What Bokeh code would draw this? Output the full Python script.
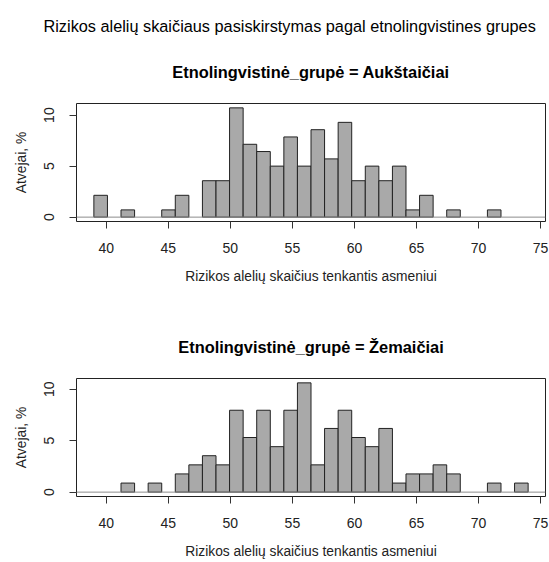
from bokeh.plotting import figure
from bokeh.layouts import column
from bokeh.models import Range1d, FixedTicker, Span, Title
from bokeh.embed import file_html
from bokeh.resources import INLINE
import numpy as np

# ---- data (percent of cases per bin) ----
breaks = list(np.linspace(39, 74, 33))          # 32 equal-width bins, 39..74
x_ticks = [40, 45, 50, 55, 60, 65, 70, 75]
y_ticks = [0, 5, 10]
overall_title = "Rizikos alelių skaičiaus pasiskirstymas pagal etnolingvistines grupes"
groups = ["Aukštaičiai", "Žemaičiai"]
aukstaiciai = [2.14, 0, 0.71, 0, 0, 0.71, 2.14, 0, 3.57, 3.57, 10.71, 7.14,
               6.43, 5.00, 7.86, 5.00, 8.57, 5.71, 9.29, 3.57, 5.00, 3.57,
               5.00, 0.71, 2.14, 0, 0.71, 0, 0, 0.71, 0, 0]
zemaiciai = [0, 0, 0.88, 0, 0.88, 0, 1.77, 2.65, 3.54, 2.65, 7.96, 5.31,
             7.96, 4.42, 7.96, 10.62, 2.65, 6.19, 7.96, 5.31, 4.42, 6.19,
             0.88, 1.77, 1.77, 2.65, 1.77, 0, 0, 0.88, 0, 0.88]
x_label = "Rizikos alelių skaičius tenkantis asmeniui"
y_label = "Atvejai, %"

FONT = "Liberation Sans"
W = 549
FRAME_H = 118


def style_title(t, size, bold, color="black"):
    t.text_font = FONT
    t.text_font_size = size
    t.text_font_style = "bold" if bold else "normal"
    t.text_color = color


def panel(vals, group, height, border_top, top_title=None):
    lo, hi = breaks[0], breaks[-1]
    ext = 0.04 * (hi - lo)
    ymax = max(vals)
    sub = "Etnolingvistinė_grupė = " + group
    p = figure(width=W, height=height, output_backend="svg", toolbar_location=None,
               x_range=Range1d(lo - ext, hi + ext),
               y_range=Range1d(-0.04 * ymax, 1.04 * ymax),
               min_border_left=76, min_border_right=4,
               min_border_top=border_top,
               min_border_bottom=height - border_top - FRAME_H,
               title=top_title if top_title else sub)
    if top_title:
        # overall title (farther from the frame)
        p.title.align = "left"
        p.title.offset = -33
        style_title(p.title, "16.3px", False)
        p.title.standoff = 8
        t = Title(text=sub, align="center", standoff=45)
        style_title(t, "16.4px", True)
        p.add_layout(t, "above")
    else:
        p.title.align = "center"
        style_title(p.title, "16.4px", True)
        p.title.standoff = 45

    left = [breaks[i] for i, v in enumerate(vals) if v > 0]
    right = [breaks[i + 1] for i, v in enumerate(vals) if v > 0]
    top = [v for v in vals if v > 0]
    p.add_layout(Span(location=0, dimension="width", line_color="#8c8c8c", line_width=1))
    p.quad(left=left, right=right, bottom=0, top=top,
           fill_color="#A9A9A9", line_color="#222222", line_width=1)

    p.grid.visible = False
    p.outline_line_color = "#222222"
    p.outline_line_alpha = 1
    p.background_fill_color = "white"
    p.border_fill_color = "white"

    p.xaxis.ticker = FixedTicker(ticks=x_ticks)
    p.yaxis.ticker = FixedTicker(ticks=y_ticks)
    for ax in (p.xaxis[0], p.yaxis[0]):
        ax.axis_line_color = None
        ax.major_tick_out = 7
        ax.major_tick_in = 0
        ax.minor_tick_line_color = None
        ax.major_tick_line_color = "#333333"
        ax.major_label_text_font = FONT
        ax.major_label_text_font_size = "14px"
        ax.major_label_text_color = "#222222"
        ax.axis_label_text_font = FONT
        ax.axis_label_text_font_size = "13.8px"
        ax.axis_label_text_font_style = "normal"
        ax.axis_label_text_color = "#222222"
    p.xaxis.axis_label = x_label
    p.yaxis.axis_label = y_label
    p.yaxis.major_label_orientation = "vertical"
    p.xaxis.major_label_standoff = 14
    p.xaxis.axis_label_standoff = 13
    p.yaxis.major_label_standoff = 15
    p.yaxis.axis_label_standoff = 13
    return p


p1 = panel(aukstaiciai, groups[0], 300, 103, top_title=overall_title)
p2 = panel(zemaiciai, groups[1], 262, 78)

layout = column(p1, p2, spacing=0)
open("out.html", "w").write(file_html(layout, INLINE))
